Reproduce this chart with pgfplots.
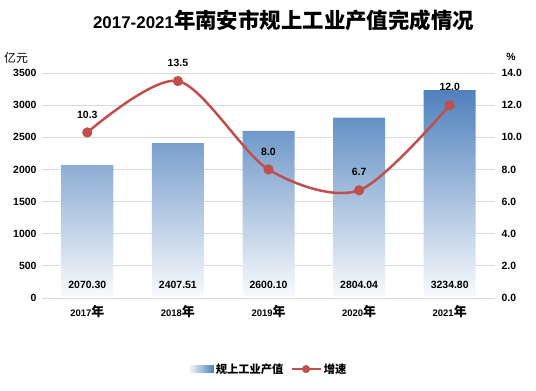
\documentclass[border=0pt]{standalone}
\usepackage{pgfplots}
\pgfplotsset{compat=1.18}
\usepackage{fontspec}
\setmainfont{Liberation Sans}
\newfontfamily\cjk{Noto Sans CJK SC}
\definecolor{barblue}{RGB}{79,129,189}
\definecolor{linered}{RGB}{192,80,77}
\definecolor{gridgray}{RGB}{217,217,217}
\newcommand{\yr}[1]{#1{\cjk\fontsize{13}{13}\selectfont 年}}
\begin{document}
\begin{tikzpicture}[x=1bp,y=1bp]
\useasboundingbox (0,0) rectangle (536,390);
\node[font=\bfseries\fontsize{17}{17}\selectfont] at (283.5,370) {2017-2021{\cjk\fontsize{21.5}{21.5}\selectfont 年南安市规上工业产值完成情况}};
\node[font=\cjk\fontsize{12}{12}\selectfont] at (16,332) {亿元};
\node[font=\bfseries\fontsize{10.5}{10.5}\selectfont] at (511,333) {\%};
\begin{axis}[
  at={(42bp,92bp)}, anchor=south west, scale only axis,
  width=453bp, height=225bp,
  xmin=-0.5, xmax=4.5, ymin=0, ymax=3500,
  ytick={0,500,...,3500},
  xtick={0,1,2,3,4},
  xticklabels={\yr{2017},\yr{2018},\yr{2019},\yr{2020},\yr{2021}},
  axis line style={draw=none},
  tick style={draw=none},
  ymajorgrids, grid style={gridgray, line width=0.8bp},
  /pgf/number format/1000 sep={},
  /pgf/number format/assume math mode=true,
  yticklabel style={font=\bfseries\fontsize{10.5}{10.5}\selectfont, xshift=-2bp},
  xticklabel style={font=\bfseries\fontsize{9.5}{9.5}\selectfont, yshift=-4bp},
  legend columns=2,
  legend style={at={(0.499,-0.316)}, anchor=center, draw=none, fill=none,
    font=\cjk\bfseries\fontsize{11.3}{11.3}\selectfont,
    /tikz/every even column/.append style={column sep=5bp},
    inner sep=0pt},
]
\addplot[ybar, bar width=52bp, bar shift=0pt, draw=none, top color=barblue, bottom color=barblue!3,
  legend image code/.code={\shade[left color=white, right color=barblue, draw=none] (0bp,-3.5bp) rectangle (26bp,3.5bp);}]
  coordinates {(0,2070.30) (1,2407.51) (2,2600.10) (3,2804.04) (4,3234.80)};
\addlegendentry{规上工业产值}
\addplot[draw=none, mark=none, forget plot, nodes near coords, point meta=explicit symbolic,
  nodes near coords style={anchor=center, yshift=13bp, font=\bfseries\fontsize{10.5}{10.5}\selectfont, text=black}]
  coordinates {(0,0)[2070.30] (1,0)[2407.51] (2,0)[2600.10] (3,0)[2804.04] (4,0)[3234.80]};
\addlegendimage{legend image code/.code={\draw[linered, line width=2.5bp] (0bp,0bp) -- (29bp,0bp); \fill[linered] (14.5bp,0bp) circle (3.8bp);}}
\addlegendentry{增速}
\end{axis}
\begin{axis}[
  at={(42bp,92bp)}, anchor=south west, scale only axis,
  width=453bp, height=225bp,
  xmin=-0.5, xmax=4.5, ymin=0, ymax=14,
  ytick={0,2,...,14},
  axis y line*=right,
  hide x axis,
  axis line style={draw=none},
  tick style={draw=none},
  /pgf/number format/.cd, fixed, fixed zerofill, precision=1, assume math mode=true, /pgfplots/.cd,
  yticklabel style={font=\bfseries\fontsize{10.5}{10.5}\selectfont, xshift=3bp},
]
\addplot[linered, line width=2.5bp, smooth, mark=*, mark size=3.8bp, mark options={fill=linered, draw=linered},
  nodes near coords, point meta=explicit symbolic,
  nodes near coords style={anchor=center, yshift=18bp, font=\bfseries\fontsize{10.5}{10.5}\selectfont, text=black}]
  coordinates {(0,10.3)[10.3] (1,13.5)[13.5] (2,8.0)[8.0] (3,6.7)[6.7] (4,12.0)[12.0]};
\end{axis}
\end{tikzpicture}
\end{document}
